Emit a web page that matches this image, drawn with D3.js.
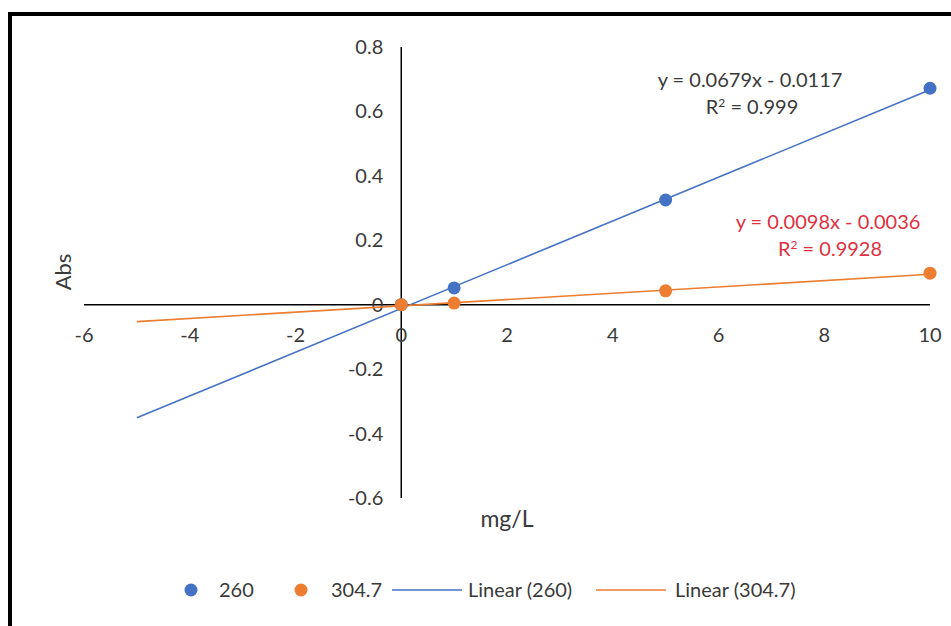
<!DOCTYPE html>
<html>
<head>
<meta charset="utf-8">
<script src="https://cdn.jsdelivr.net/npm/d3@7"></script>
<style>
  body { margin:0; background:#fff; }
  svg { display:block; font-family: Lato, "Open Sans", sans-serif; }
</style>
</head>
<body>
<svg width="951" height="626"></svg>
<script>
// data
var conc = [0, 1, 5, 10];
var abs260 = [0, 0.052, 0.325, 0.672];
var abs3047 = [0, 0.005, 0.043, 0.098];
var seriesNames = ["260", "304.7"];
var slopes = [0.0679, 0.0098];
var intercepts = [-0.0117, -0.0036];
var eqLabels = ["y = 0.0679x - 0.0117", "y = 0.0098x - 0.0036"];
var r2Labels = ["0.999", "0.9928"];
var trendFrom = -5, trendTo = 10;
var xTicks = [-6, -4, -2, 0, 2, 4, 6, 8, 10];
var yTicks = [-0.6, -0.4, -0.2, 0, 0.2, 0.4, 0.6, 0.8];

var svg = d3.select("svg");
var blue = "#4472c4", orange = "#ed7d31", red = "#e0303f", txtCol = "#3a3a3a";
var fs = 20;

// frame (only left and top visible)
svg.append("rect").attr("x", 10).attr("y", 14).attr("width", 960).attr("height", 640)
  .attr("fill", "none").attr("stroke", "#000").attr("stroke-width", 4);

var x = d3.scaleLinear().domain([-6, 10]).range([84, 930]);
var y = d3.scaleLinear().domain([-0.6, 0.8]).range([498, 47]);

// axes crossing at zero
svg.append("line").attr("x1", x(-6)).attr("x2", x(10)).attr("y1", y(0)).attr("y2", y(0))
  .attr("stroke", "#000").attr("stroke-width", 1.5);
svg.append("line").attr("x1", x(0)).attr("x2", x(0)).attr("y1", y(0.8)).attr("y2", y(-0.6))
  .attr("stroke", "#000").attr("stroke-width", 1.5);

svg.selectAll("text.xt").data(xTicks).enter().append("text")
  .attr("class", "xt")
  .attr("x", d => x(d))
  .attr("y", y(0) + 37)
  .attr("text-anchor", "middle")
  .attr("font-size", fs).attr("fill", txtCol)
  .text(d => String(d));

svg.selectAll("text.yt").data(yTicks).enter().append("text")
  .attr("class", "yt")
  .attr("x", x(0) - 18)
  .attr("y", d => y(d) + 7)
  .attr("text-anchor", "end")
  .attr("font-size", fs).attr("fill", txtCol)
  .text(d => String(+d.toFixed(1)));

svg.append("text").attr("transform", "translate(71,272) rotate(-90)")
  .attr("text-anchor", "middle").attr("font-size", fs + 2).attr("fill", txtCol).text("Abs");
svg.append("text").attr("x", 507).attr("y", 527)
  .attr("text-anchor", "middle").attr("font-size", fs + 3).attr("fill", txtCol).text("mg/L");

// trendlines
var colors = [blue, orange];
for (var i = 0; i < 2; i++)
{
  svg.append("line")
    .attr("x1", x(trendFrom)).attr("y1", y(slopes[i] * trendFrom + intercepts[i]))
    .attr("x2", x(trendTo)).attr("y2", y(slopes[i] * trendTo + intercepts[i]))
    .attr("stroke", colors[i]).attr("stroke-width", 1.6);
}

// points
var sets = [abs260, abs3047];
for (var i = 0; i < 2; i++)
{
  svg.selectAll("circle.s" + i).data(conc).enter().append("circle")
    .attr("class", "s" + i)
    .attr("cx", d => x(d))
    .attr("cy", (d, j) => y(sets[i][j]))
    .attr("r", 6.5)
    .attr("fill", colors[i]);
}

// equation labels
var eqPos = [[750, 87, txtCol], [828, 229, red]];
for (var i = 0; i < 2; i++)
{
  svg.append("text").attr("x", eqPos[i][0]).attr("y", eqPos[i][1])
    .attr("text-anchor", "middle").attr("font-size", fs).attr("fill", eqPos[i][2])
    .text(eqLabels[i]);
  var r = svg.append("text").attr("x", eqPos[i][0] + 2).attr("y", eqPos[i][1] + 27)
    .attr("text-anchor", "middle").attr("font-size", fs).attr("fill", eqPos[i][2]);
  r.append("tspan").text("R");
  r.append("tspan").attr("dy", -7).attr("font-size", 12).text("2");
  r.append("tspan").attr("dy", 7).text(" = " + r2Labels[i]);
}

// legend
var lg = svg.append("g").attr("font-size", fs).attr("fill", txtCol);
var ly = 590;
lg.append("circle").attr("cx", 191).attr("cy", ly).attr("r", 6.5).attr("fill", blue);
lg.append("text").attr("x", 219).attr("y", ly + 7).text(seriesNames[0]);
lg.append("circle").attr("cx", 301).attr("cy", ly).attr("r", 6.5).attr("fill", orange);
lg.append("text").attr("x", 331).attr("y", ly + 7).text(seriesNames[1]);
lg.append("line").attr("x1", 392).attr("x2", 462).attr("y1", ly).attr("y2", ly).attr("stroke", blue).attr("stroke-width", 1.6);
lg.append("text").attr("x", 468).attr("y", ly + 7).text("Linear (" + seriesNames[0] + ")");
lg.append("line").attr("x1", 596).attr("x2", 666).attr("y1", ly).attr("y2", ly).attr("stroke", orange).attr("stroke-width", 1.6);
lg.append("text").attr("x", 675).attr("y", ly + 7).text("Linear (" + seriesNames[1] + ")");
</script>
</body>
</html>
